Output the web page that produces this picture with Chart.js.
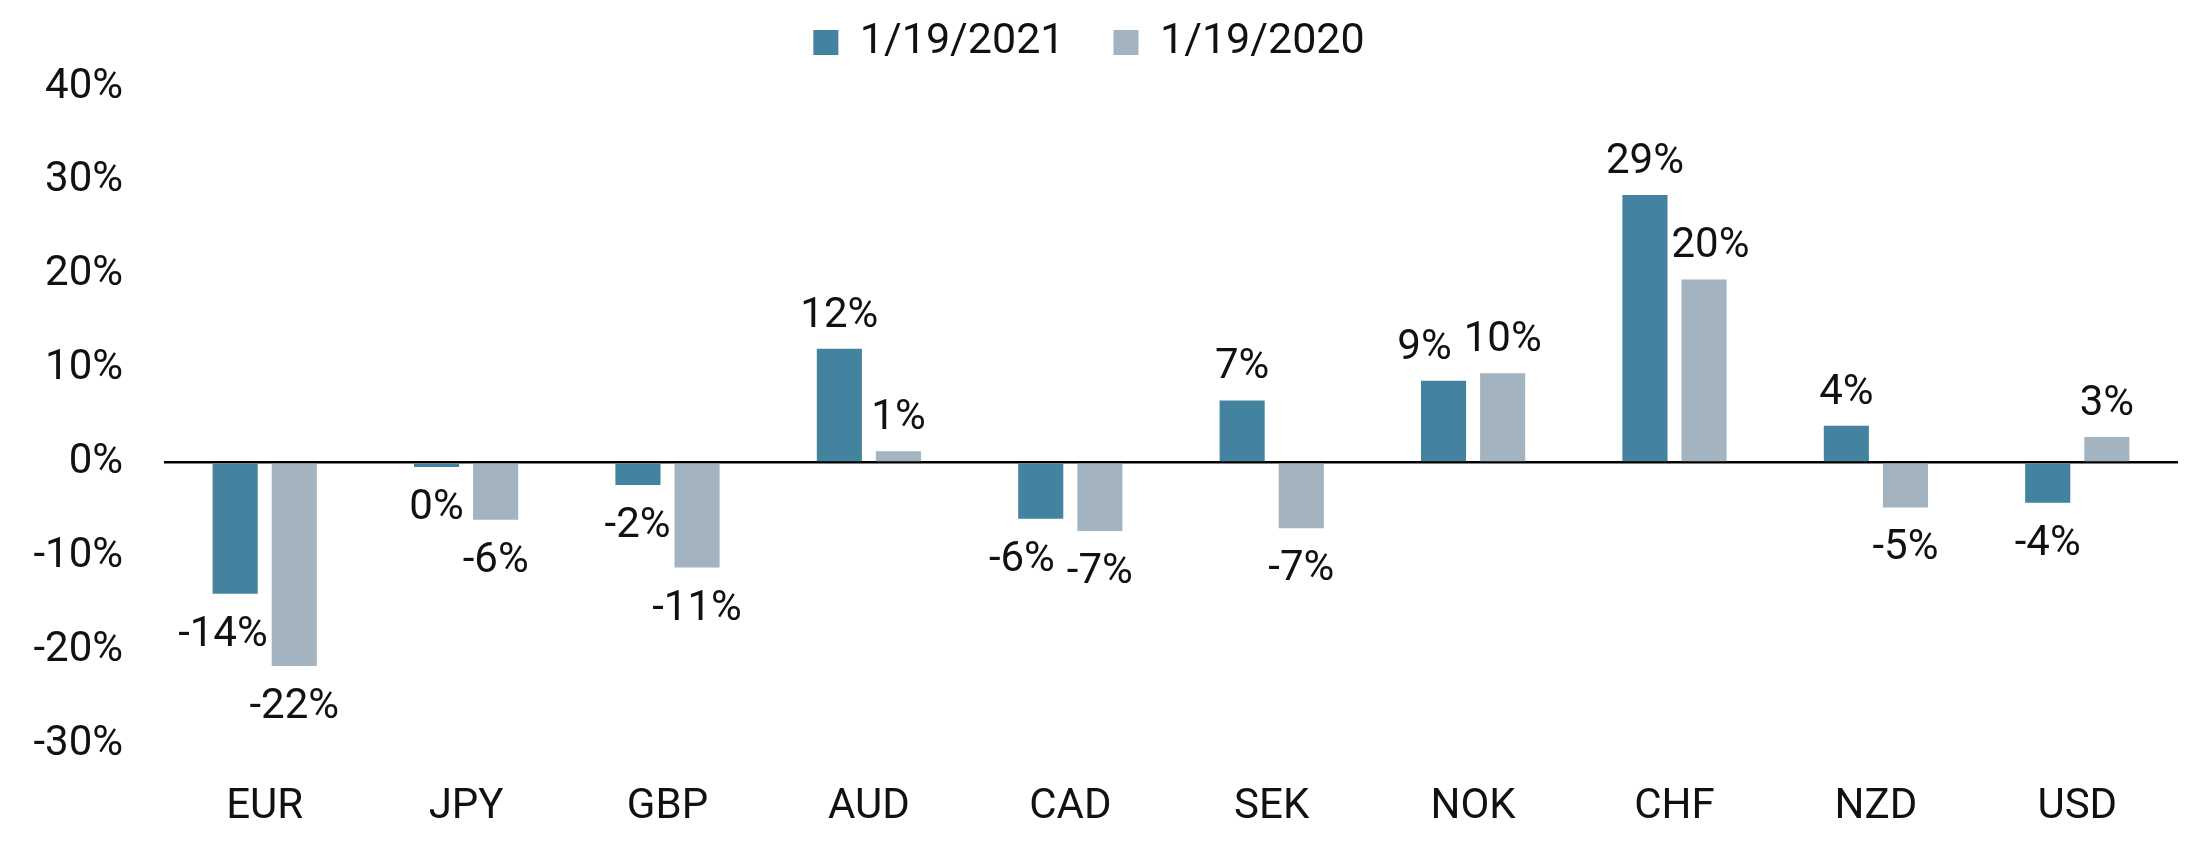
<!DOCTYPE html>
<html lang="en">
<head>
    <meta charset="UTF-8">
    <title>Currency valuation</title>
    <script src="https://cdn.jsdelivr.net/npm/chart.js"></script>
    <style>
        html, body { margin: 0; padding: 0; background: #fff; }
        #wrap { width: 2200px; height: 850px; }
    </style>
</head>
<body>
    <div id="wrap"><canvas id="fx-chart" width="2200" height="850"></canvas></div>

    <script>
        // data
        const categories = ['EUR', 'JPY', 'GBP', 'AUD', 'CAD', 'SEK', 'NOK', 'CHF', 'NZD', 'USD'];
        const seriesNames = ['1/19/2021', '1/19/2020'];
        const values2021 = [-14.0, -0.5, -2.4, 12.1, -6.0, 6.6, 8.7, 28.5, 3.9, -4.3];
        const values2020 = [-21.7, -6.1, -11.2, 1.2, -7.3, -7.0, 9.5, 19.5, -4.8, 2.7];
        const yTicks = [-30, -20, -10, 0, 10, 20, 30, 40];

        const FONT = 'Roboto';
        const darkBlue = '#44839f';
        const greyBlue = '#a3b3bf';

        // value labels above / below each bar, nudged apart when they collide
        const barLabels = {
            id: 'barLabels',
            afterDatasetsDraw(chart) {
                const ctx = chart.ctx;
                const gap = 22, capH = 30;
                ctx.save();
                ctx.font = '42px ' + FONT;
                ctx.fillStyle = '#111';
                ctx.textAlign = 'center';
                ctx.textBaseline = 'alphabetic';
                const metas = [chart.getDatasetMeta(0), chart.getDatasetMeta(1)];
                categories.forEach((cat, i) => {
                    const items = metas.map((m, d) => {
                        const bar = m.data[i];
                        const v = chart.data.datasets[d].data[i];
                        const text = Math.round(v) + '%';
                        const w = ctx.measureText(text).width;
                        const top = v >= 0 ? bar.y - gap - capH : bar.y + gap;
                        return {
                            text, w, x: bar.x, top, bottom: top + capH,
                            barL: bar.x - bar.width / 2, barR: bar.x + bar.width / 2,
                            barT: Math.min(bar.y, bar.base), barB: Math.max(bar.y, bar.base)
                        };
                    });
                    const a = items[0], b = items[1];
                    const vOver = (p, q1, q2) => p.top < q2 && p.bottom > q1;
                    // left label against the right bar
                    if (vOver(a, b.barT, b.barB) && a.x + a.w / 2 > b.barL - 4) {
                        a.x = b.barL - 4 - a.w / 2;
                    }
                    // right label against the left bar
                    if (vOver(b, a.barT, a.barB) && b.x - b.w / 2 < a.barR + 4) {
                        b.x = a.barR + 4 + b.w / 2;
                    }
                    // label against label
                    if (vOver(a, b.top, b.bottom)) {
                        const over = (a.x + a.w / 2) - (b.x - b.w / 2);
                        if (over > -4) {
                            a.x -= over + 12;
                        }
                    }
                    items.forEach(it => ctx.fillText(it.text, it.x, it.bottom));
                });
                ctx.restore();
            }
        };

        // fixed legend band height so the plot starts where the reference does
        const legendBand = {
            id: 'legendBand',
            beforeInit(chart) {
                const fit = chart.legend.fit;
                chart.legend.fit = function () {
                    fit.bind(chart.legend)();
                    this.height = 115;
                };
            }
        };

        const ctx = document.getElementById('fx-chart').getContext('2d');
        new Chart(ctx, {
            type: 'bar',
            data: {
                labels: categories,
                datasets: [
                    {
                        label: seriesNames[0],
                        data: values2021,
                        backgroundColor: darkBlue,
                        categoryPercentage: 0.587,
                        barPercentage: 0.763
                    },
                    {
                        label: seriesNames[1],
                        data: values2020,
                        backgroundColor: greyBlue,
                        categoryPercentage: 0.587,
                        barPercentage: 0.763
                    }
                ]
            },
            options: {
                responsive: false,
                animation: false,
                devicePixelRatio: 1,
                layout: { padding: { top: -28, right: 22, left: 0, bottom: 0 } },
                plugins: {
                    tooltip: { enabled: false },
                    legend: {
                        position: 'top',
                        align: 'center',
                        labels: {
                            boxWidth: 25,
                            boxHeight: 25,
                            padding: 49,
                            color: '#111',
                            font: { family: FONT, size: 43, lineHeight: 1 }
                        }
                    }
                },
                scales: {
                    x: {
                        grid: { display: false },
                        border: { display: false },
                        ticks: {
                            color: '#111',
                            padding: 30,
                            font: { family: FONT, size: 42 }
                        },
                        afterFit: s => { s.height = 106; }
                    },
                    y: {
                        min: yTicks[0],
                        max: yTicks[yTicks.length - 1],
                        afterBuildTicks: s => { s.ticks = yTicks.map(v => ({ value: v })); },
                        border: { display: false },
                        grid: {
                            drawTicks: false,
                            lineWidth: 2.5,
                            color: c => (c.tick && c.tick.value === 0 ? '#000' : 'rgba(0,0,0,0)')
                        },
                        ticks: {
                            color: '#111',
                            padding: 41,
                            font: { family: FONT, size: 42 },
                            callback: v => v + '%'
                        },
                        afterFit: s => { s.width = 164; }
                    }
                }
            },
            plugins: [barLabels, legendBand]
        });
    </script>
</body>
</html>
